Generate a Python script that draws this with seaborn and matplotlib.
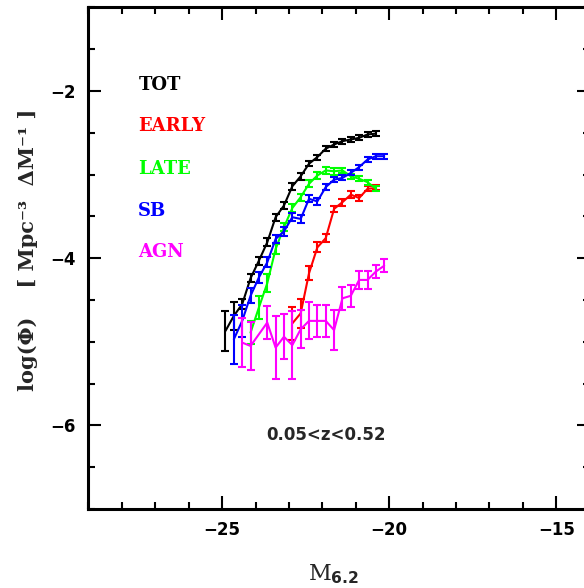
import numpy as np
import pandas as pd
import matplotlib
matplotlib.use("Agg")
import matplotlib.pyplot as plt
import seaborn as sns
from matplotlib.ticker import MultipleLocator

# ---- data ----
tot_x = [-24.90, -24.65, -24.40, -24.15, -23.90, -23.65, -23.40, -23.15, -22.90, -22.65,
         -22.40, -22.15, -21.90, -21.65, -21.40, -21.15, -20.90, -20.65, -20.40]
tot_y = [-4.87, -4.69, -4.55, -4.24, -4.03, -3.81, -3.51, -3.37, -3.14, -3.02,
         -2.87, -2.79, -2.69, -2.64, -2.60, -2.58, -2.56, -2.52, -2.51]
tot_e = [0.24, 0.17, 0.06, 0.05, 0.05, 0.05, 0.04, 0.04, 0.04, 0.04,
         0.03, 0.03, 0.03, 0.03, 0.03, 0.03, 0.03, 0.03, 0.03]

early_x = [-22.90, -22.65, -22.40, -22.15, -21.90, -21.65, -21.40, -21.15, -20.90, -20.65, -20.40]
early_y = [-4.78, -4.66, -4.18, -3.87, -3.76, -3.41, -3.33, -3.24, -3.28, -3.17, -3.16]
early_e = [0.20, 0.17, 0.085, 0.06, 0.05, 0.04, 0.04, 0.04, 0.04, 0.03, 0.03]

late_x = [-24.15, -23.90, -23.65, -23.40, -23.15, -22.90, -22.65, -22.40, -22.15, -21.90,
          -21.65, -21.40, -21.15, -20.90, -20.65, -20.40]
late_y = [-4.89, -4.59, -4.30, -3.89, -3.63, -3.40, -3.27, -3.11, -3.01, -2.95,
          -2.96, -2.95, -3.02, -3.05, -3.09, -3.17]
late_e = [0.14, 0.14, 0.11, 0.06, 0.05, 0.05, 0.04, 0.04, 0.04, 0.04,
          0.04, 0.03, 0.03, 0.03, 0.03, 0.03]

sb_x = [-24.65, -24.40, -24.15, -23.90, -23.65, -23.40, -23.15, -22.90, -22.65, -22.40,
        -22.15, -21.90, -21.65, -21.40, -21.15, -20.90, -20.65, -20.40, -20.15]
sb_y = [-4.97, -4.75, -4.45, -4.23, -4.05, -3.77, -3.68, -3.51, -3.53, -3.29,
        -3.32, -3.15, -3.06, -3.04, -2.98, -2.91, -2.82, -2.78, -2.78]
sb_e = [0.29, 0.19, 0.09, 0.07, 0.06, 0.05, 0.05, 0.05, 0.05, 0.04,
        0.04, 0.04, 0.03, 0.03, 0.03, 0.03, 0.03, 0.03, 0.03]

agn_x = [-24.40, -24.15, -23.65, -23.40, -23.15, -22.90, -22.65, -22.40, -22.15, -21.90,
         -21.65, -21.40, -21.15, -20.90, -20.65, -20.40, -20.15]
agn_y = [-5.01, -5.05, -4.77, -5.07, -4.94, -5.04, -4.85, -4.75, -4.75, -4.75,
         -4.86, -4.48, -4.45, -4.26, -4.26, -4.16, -4.09]
agn_e = [0.29, 0.29, 0.20, 0.38, 0.27, 0.41, 0.23, 0.22, 0.19, 0.19,
         0.24, 0.14, 0.13, 0.11, 0.11, 0.08, 0.08]

names = ["TOT", "EARLY", "LATE", "SB", "AGN"]
colors = ["#000000", "#ff0000", "#00ff00", "#0000ff", "#ff00ff"]
xticks_major = [-25, -20, -15]
yticks_major = [-6, -4, -2]

series = [(tot_x, tot_y, tot_e), (early_x, early_y, early_e), (late_x, late_y, late_e),
          (sb_x, sb_y, sb_e), (agn_x, agn_y, agn_e)]

# ---- figure ----
sns.set_style("ticks")
plt.rcParams["font.family"] = ["DejaVu Sans"]

fig = plt.figure(figsize=(5.84, 5.88), dpi=100)
ax = fig.add_axes([0.1515, 0.1344, 0.8583, 0.853])

for (x, y, e), c in zip(series, colors):
    df = pd.DataFrame({"M": x, "logphi": y})
    sns.lineplot(data=df, x="M", y="logphi", color=c, lw=1.5, ax=ax,
                 estimator=None, sort=False, legend=False)
    ax.errorbar(x, y, yerr=e, fmt="none", ecolor=c, elinewidth=1.5,
                capsize=3, capthick=1.5)

ax.set_xlim(-29, -14)
ax.set_ylim(-7, -1)
ax.set_xticks(xticks_major)
ax.set_yticks(yticks_major)
ax.xaxis.set_minor_locator(MultipleLocator(1))
ax.yaxis.set_minor_locator(MultipleLocator(0.5))
ax.tick_params(which="both", direction="in", top=True, right=True, colors="black")
ax.tick_params(which="major", length=9.5, width=1.5, labelsize=12, pad=9)
ax.tick_params(which="minor", length=5, width=1.5)
for lab in ax.get_xticklabels() + ax.get_yticklabels():
    lab.set_fontweight("bold")
for sp in ax.spines.values():
    sp.set_linewidth(2.2)
    sp.set_color("black")

ax.set_xlabel(r"M$_{\mathbf{6.2}}$", fontsize=16, family="DejaVu Serif")
ax.xaxis.set_label_coords(0.489, -0.106)
ax.set_ylabel("log(Φ)    [ Mpc⁻³  ΔM⁻¹ ]", fontsize=15, family="DejaVu Serif",
              fontweight="bold")
ax.yaxis.set_label_coords(-0.10, 0.516)

label_y = [-1.93, -2.42, -2.93, -3.43, -3.92]
for n, c, yy in zip(names, colors, label_y):
    ax.text(-27.51, yy, n, color=c, fontsize=13, family="DejaVu Serif",
            fontweight="bold", va="center", ha="left")

ax.text(-21.9, -6.11, "0.05<z<0.52", fontsize=12, fontweight="bold",
        ha="center", va="center")

fig.savefig("out.png", dpi=100)
